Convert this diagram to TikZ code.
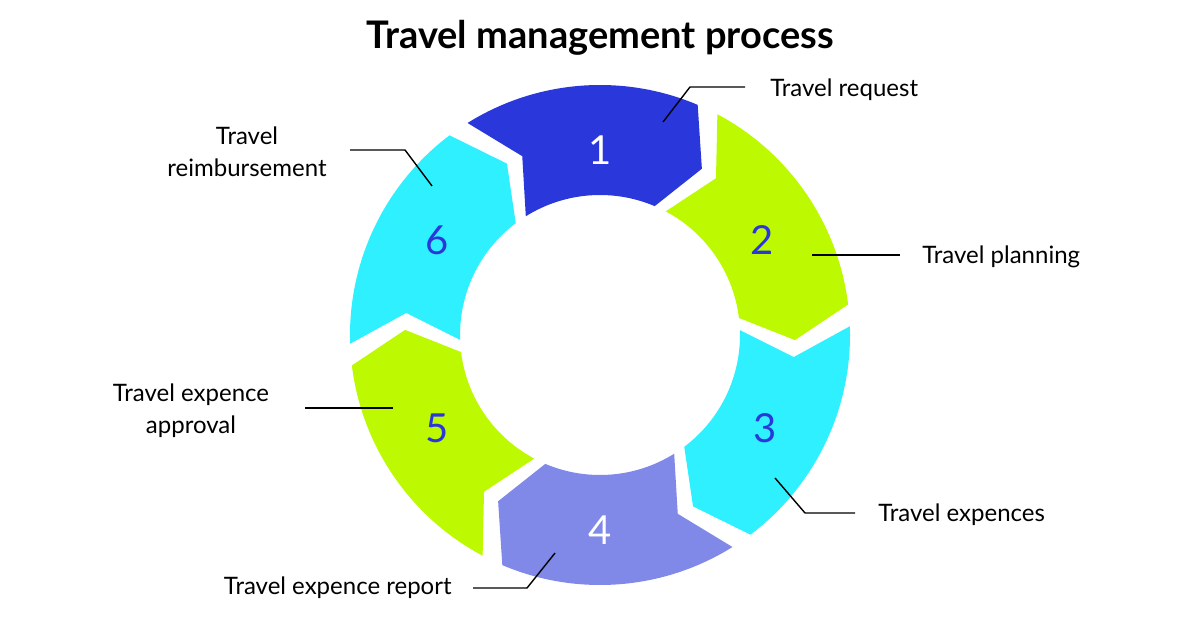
\documentclass[tikz,border=0pt]{standalone}
\usepackage{fontspec}
\setmainfont{Lato}
\begin{document}
\begin{tikzpicture}[x=0.5pt,y=-0.5pt,
  lbl/.style={font=\fontsize{12}{14}\selectfont,inner sep=0pt},
  num/.style={font=\fontsize{20}{22}\selectfont,inner sep=0pt},
  lead/.style={black,line width=0.7pt}]
\definecolor{cBlue}{HTML}{2A38DB}
\definecolor{cLime}{HTML}{BDF900}
\definecolor{cCyan}{HTML}{2EF0FF}
\definecolor{cLav}{HTML}{8088E8}
\useasboundingbox (0,0) rectangle (1200,630);
\node[font=\fontsize{19}{22}\selectfont\bfseries,inner sep=0pt] (title) at (600,38) {Travel management process};
\begin{scope}[shift={(600,335)},yscale=-1]
\def\Ro{250}\def\Ri{140}\def\Rm{195}
\foreach \k/\col in {0/cBlue,1/cLime,2/cCyan,3/cLav,4/cLime,5/cCyan}{
  \pgfmathsetmacro{\a}{122-60*\k}
  \pgfmathsetmacro{\b}{\a-55}
  \fill[\col] (\a:\Ro) arc[start angle=\a,end angle=\b,radius=\Ro] -- (\b-8.5:\Rm) -- (\b:\Ri)
     arc[start angle=\b,end angle=\a,radius=\Ri] -- (\a-8.5:\Rm) -- cycle;
}
\end{scope}
\node[num,white] (n1) at (600,150) {1};
\node[num,cBlue] (n2) at (762,240) {2};
\node[num,cBlue] (n3) at (765,428) {3};
\node[num,white] (n4) at (600,530) {4};
\node[num,cBlue] (n5) at (437,428) {5};
\node[num,cBlue] (n6) at (437,240) {6};
% labels
\node[lbl,anchor=west] (l1) at (770,90) {Travel request};
\node[lbl,anchor=west] (l2) at (922,257) {Travel planning};
\node[lbl,anchor=west] (l3) at (878,515) {Travel expences};
\node[lbl,anchor=east] (l4) at (452,588) {Travel expence report};
\node[lbl,align=center] (l5) at (191,411) {Travel expence\\[2pt]approval};
\node[lbl,align=center] (l6) at (247,152) {Travel\\[2pt]reimbursement};
% leaders
\coordinate (a1) at (663,122); \coordinate (b1) at (690,87); \coordinate (c1) at (745,87);
\draw[lead] (a1) -- (b1) -- (c1);
\coordinate (a2) at (812,255); \coordinate (c2) at (900,255);
\draw[lead] (a2) -- (c2);
\coordinate (a3) at (775,478); \coordinate (b3) at (805,513); \coordinate (c3) at (855,513);
\draw[lead] (a3) -- (b3) -- (c3);
\coordinate (a4) at (555,553); \coordinate (b4) at (527,588); \coordinate (c4) at (473,588);
\draw[lead] (a4) -- (b4) -- (c4);
\coordinate (a5) at (393,408); \coordinate (c5) at (305,408);
\draw[lead] (a5) -- (c5);
\coordinate (a6) at (432,186); \coordinate (b6) at (405,150); \coordinate (c6) at (350,150);
\draw[lead] (a6) -- (b6) -- (c6);
\end{tikzpicture}
\end{document}
